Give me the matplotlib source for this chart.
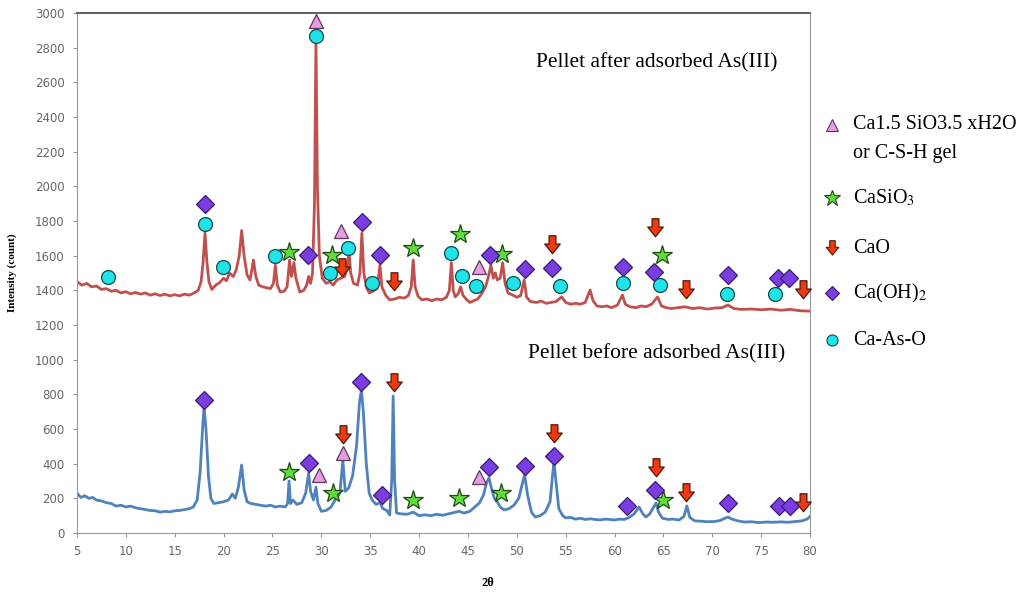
# XRD patterns of pellet before / after As(III) adsorption
import matplotlib
matplotlib.use("Agg")
import matplotlib.pyplot as plt
from matplotlib.path import Path
import numpy

plt.rcParams['mathtext.fontset'] = 'stix'

# ---- traces (2theta, intensity) ----
after_pts = [
    (5.0, 1450), (5.5, 1430), (6.0, 1440), (6.5, 1420), (7.0, 1425), (7.5, 1405),
    (8.0, 1410), (8.5, 1395), (9.0, 1400), (9.5, 1385), (10.0, 1392), (10.5, 1380),
    (11.0, 1388), (11.5, 1378), (12.0, 1385), (12.5, 1372), (13.0, 1380), (13.5, 1370),
    (14.0, 1378), (14.5, 1368), (15.0, 1375), (15.5, 1368), (16.0, 1378), (16.5, 1372),
    (17.0, 1385), (17.4, 1400), (17.7, 1450), (17.9, 1560), (18.1, 1730), (18.3, 1560),
    (18.5, 1450), (18.8, 1405), (19.2, 1430), (19.6, 1445), (20.0, 1470), (20.3, 1455),
    (20.6, 1500), (21.0, 1480), (21.3, 1520), (21.6, 1600), (21.85, 1745), (22.1, 1600),
    (22.4, 1490), (22.7, 1460), (22.9, 1520), (23.05, 1575), (23.3, 1480), (23.6, 1430),
    (24.0, 1420), (24.4, 1415), (24.8, 1410), (25.1, 1440), (25.3, 1545), (25.5, 1430),
    (25.8, 1390), (26.2, 1395), (26.5, 1420), (26.75, 1575), (26.95, 1480), (27.2, 1560),
    (27.4, 1470), (27.8, 1390), (28.2, 1400), (28.5, 1430), (28.7, 1480), (28.9, 1440),
    (29.1, 1500), (29.3, 1900), (29.45, 2850), (29.6, 2000), (29.8, 1600), (30.1, 1470),
    (30.5, 1440), (30.9, 1450), (31.2, 1430), (31.6, 1460), (32.0, 1470), (32.4, 1480),
    (32.65, 1540), (32.85, 1620), (33.0, 1500), (33.3, 1440), (33.7, 1430), (33.95, 1500),
    (34.15, 1730), (34.35, 1500), (34.6, 1420), (34.9, 1385), (35.3, 1395), (35.7, 1410),
    (36.0, 1545), (36.2, 1420), (36.6, 1370), (37.0, 1345), (37.5, 1350), (38.0, 1360),
    (38.5, 1355), (38.9, 1370), (39.2, 1420), (39.4, 1575), (39.6, 1420), (39.9, 1365),
    (40.3, 1345), (40.8, 1350), (41.3, 1340), (41.8, 1350), (42.3, 1345), (42.8, 1360),
    (43.1, 1400), (43.3, 1560), (43.5, 1400), (43.7, 1362), (44.0, 1380), (44.25, 1420),
    (44.5, 1370), (44.9, 1345), (45.2, 1330), (45.6, 1340), (46.0, 1350), (46.4, 1380),
    (46.8, 1420), (47.1, 1480), (47.35, 1545), (47.6, 1470), (47.8, 1500), (48.0, 1460),
    (48.3, 1470), (48.55, 1560), (48.8, 1440), (49.1, 1385), (49.5, 1375), (50.0, 1360),
    (50.4, 1370), (50.75, 1460), (51.0, 1360), (51.4, 1335), (52.0, 1330), (52.5, 1338),
    (53.0, 1325), (53.5, 1330), (54.0, 1335), (54.6, 1362), (55.0, 1330), (55.5, 1320),
    (56.0, 1325), (56.5, 1320), (57.0, 1330), (57.5, 1402), (57.8, 1340), (58.2, 1310),
    (58.7, 1305), (59.2, 1310), (59.7, 1300), (60.3, 1315), (60.8, 1373), (61.1, 1320),
    (61.6, 1305), (62.2, 1300), (62.7, 1310), (63.2, 1305), (63.8, 1320), (64.4, 1362),
    (64.8, 1310), (65.3, 1300), (65.8, 1295), (66.5, 1300), (67.2, 1305), (68.0, 1295),
    (68.7, 1300), (69.5, 1292), (70.3, 1298), (71.0, 1300), (71.6, 1315), (72.2, 1295),
    (73.0, 1290), (74.0, 1292), (75.0, 1288), (76.0, 1292), (77.0, 1285), (78.0, 1290),
    (79.0, 1282), (80.0, 1280),
]

before_pts = [
    (5.0, 230), (5.4, 205), (5.8, 215), (6.2, 200), (6.6, 205), (7.0, 190), (7.5, 185),
    (8.0, 175), (8.5, 170), (9.0, 155), (9.5, 160), (10.0, 150), (10.5, 155), (11.0, 145),
    (11.5, 140), (12.0, 135), (12.5, 130), (13.0, 128), (13.5, 120), (14.0, 125),
    (14.5, 122), (15.0, 128), (15.5, 130), (16.0, 135), (16.5, 140), (16.9, 150),
    (17.3, 190), (17.6, 350), (17.85, 600), (18.0, 730), (18.2, 600), (18.45, 330),
    (18.7, 200), (19.0, 170), (19.5, 175), (20.0, 180), (20.5, 190), (20.9, 225),
    (21.2, 200), (21.5, 260), (21.85, 392), (22.1, 250), (22.4, 180), (22.8, 170),
    (23.3, 165), (23.8, 160), (24.3, 155), (24.8, 160), (25.3, 150), (25.8, 155),
    (26.3, 150), (26.55, 170), (26.7, 300), (26.85, 170), (27.1, 190), (27.5, 165),
    (28.0, 175), (28.4, 230), (28.7, 346), (28.9, 240), (29.2, 190), (29.45, 265),
    (29.65, 170), (30.0, 125), (30.5, 130), (31.0, 150), (31.5, 200), (31.9, 230),
    (32.2, 420), (32.45, 240), (32.8, 260), (33.2, 330), (33.6, 500), (33.9, 750),
    (34.1, 825), (34.3, 700), (34.6, 400), (34.9, 230), (35.2, 190), (35.6, 165),
    (36.0, 175), (36.3, 140), (36.7, 130), (37.0, 104), (37.2, 300), (37.35, 790),
    (37.5, 300), (37.7, 115), (38.2, 110), (38.8, 108), (39.4, 120), (40.0, 100),
    (40.6, 105), (41.2, 100), (41.8, 108), (42.4, 102), (43.0, 110), (43.6, 118),
    (44.1, 125), (44.6, 115), (45.2, 125), (45.7, 150), (46.2, 175), (46.6, 220),
    (46.9, 290), (47.15, 317), (47.4, 260), (47.7, 200), (48.0, 180), (48.3, 150),
    (48.7, 133), (49.2, 140), (49.7, 160), (50.2, 200), (50.5, 270), (50.8, 335),
    (51.1, 220), (51.5, 120), (51.9, 92), (52.4, 100), (52.9, 120), (53.4, 180),
    (53.65, 330), (53.8, 410), (54.0, 300), (54.3, 140), (54.7, 100), (55.0, 87),
    (55.5, 90), (56.0, 80), (56.5, 85), (57.0, 78), (57.5, 82), (58.0, 78), (58.5, 75),
    (59.0, 80), (59.5, 78), (60.0, 75), (60.5, 80), (61.0, 78), (61.5, 90), (62.0, 110),
    (62.5, 150), (62.9, 110), (63.2, 92), (63.6, 110), (64.0, 150), (64.25, 173),
    (64.5, 120), (64.9, 85), (65.5, 78), (66.0, 80), (66.6, 75), (67.1, 95), (67.4, 156),
    (67.7, 90), (68.2, 70), (68.8, 68), (69.5, 65), (70.2, 66), (70.8, 72), (71.3, 85),
    (71.6, 92), (72.0, 80), (72.6, 70), (73.3, 63), (74.0, 65), (74.8, 60), (75.5, 63),
    (76.2, 62), (77.0, 64), (77.8, 62), (78.5, 66), (79.2, 70), (79.7, 80), (80.0, 95),
]

# ---- phase markers (2theta, intensity) ----
csh_after = [(29.5, 2955), (32.0, 1745), (46.1, 1535)]
casio3_after = [(26.7, 1620), (31.1, 1604), (39.4, 1644), (44.2, 1725), (48.5, 1612), (64.9, 1604)]
cao_after = [(32.1, 1529), (37.4, 1448), (53.6, 1662), (64.1, 1760), (67.3, 1402), (79.3, 1402)]
caoh2_after = [(18.1, 1900), (28.6, 1604), (34.2, 1795), (36.0, 1604), (47.3, 1604),
               (50.8, 1523), (53.6, 1529), (60.9, 1535), (64.0, 1506), (71.6, 1488),
               (76.7, 1471), (77.8, 1471)]
caaso_after = [(8.2, 1477), (18.1, 1783), (19.9, 1535), (25.3, 1600), (29.5, 2865),
               (30.9, 1500), (32.7, 1644), (35.2, 1442), (43.3, 1615), (44.4, 1483),
               (45.8, 1425), (49.6, 1442), (54.4, 1425), (60.9, 1442), (64.6, 1430),
               (71.5, 1379), (76.4, 1379)]

csh_before = [(29.8, 335), (32.2, 461), (46.1, 323)]
casio3_before = [(26.7, 352), (31.2, 231), (39.4, 190), (44.1, 202), (48.4, 231), (65.0, 190)]
cao_before = [(32.2, 565), (37.4, 865), (53.8, 571), (64.2, 375), (67.3, 231), (79.3, 173)]
caoh2_before = [(18.0, 767), (28.7, 404), (34.1, 871), (36.2, 219), (47.2, 381),
                (50.8, 387), (53.8, 444), (61.3, 156), (64.1, 248), (71.6, 173),
                (76.8, 156), (77.9, 156)]

legend_labels = ["Ca1.5 SiO3.5 xH2O\nor C-S-H gel", "CaSiO$_3$", "CaO",
                 "Ca(OH)$_2$", "Ca-As-O"]

# down-arrow marker for CaO
arrow = Path([(-0.35, 1.0), (0.35, 1.0), (0.35, 0.15), (0.8, 0.15), (0.0, -0.85),
              (-0.8, 0.15), (-0.35, 0.15), (-0.35, 1.0)],
             [Path.MOVETO] + [Path.LINETO] * 6 + [Path.CLOSEPOLY])

styles = {
    "csh": dict(marker="^", markersize=10, markerfacecolor="#e99be6", markeredgecolor="#5a3a5a"),
    "casio3": dict(marker="*", markersize=15, markerfacecolor="#5fdc3a", markeredgecolor="#1f4a10"),
    "cao": dict(marker=arrow, markersize=14, markerfacecolor="#f2380f", markeredgecolor="#4a1a08"),
    "caoh2": dict(marker="D", markersize=9, markerfacecolor="#7a3ee0", markeredgecolor="#3a1a70"),
    "caaso": dict(marker="o", markersize=10, markerfacecolor="#1fe3e8", markeredgecolor="#104a4a"),
}

fig = plt.figure(figsize=(10.22, 5.92), dpi=100)
ax = fig.add_axes([0.0753, 0.0997, 0.7173, 0.8783])

a = numpy.array(after_pts)
b = numpy.array(before_pts)
ax.plot(a[:, 0], a[:, 1], color="#c0504d", lw=2.0)
ax.plot(b[:, 0], b[:, 1], color="#4f81bd", lw=2.0)

groups = [("csh", csh_after), ("casio3", casio3_after), ("cao", cao_after),
          ("caoh2", caoh2_after), ("caaso", caaso_after),
          ("csh", csh_before), ("casio3", casio3_before), ("cao", cao_before),
          ("caoh2", caoh2_before)]
for key, pts in groups:
    p = numpy.array(pts)
    ax.plot(p[:, 0], p[:, 1], ls="none", markeredgewidth=0.9, clip_on=False, zorder=5,
            **styles[key])

ax.set_xlim(5, 80)
ax.set_ylim(0, 3000)
ax.set_xticks(range(5, 81, 5))
ax.set_yticks(range(0, 3001, 200))
ax.tick_params(labelsize=8.5, labelcolor="#666666", color="#999999", length=3, pad=6)
for s in ["left", "bottom", "right"]:
    ax.spines[s].set_color("#999999")
ax.spines["top"].set_color("#444444")
ax.spines["top"].set_linewidth(1.2)

ax.set_ylabel("Intensity (count)", family="Liberation Serif", fontweight="bold", fontsize=8)
ax.yaxis.set_label_coords(-0.082, 0.5)
ax.set_xlabel("2θ", family="Liberation Serif", fontweight="bold", fontsize=9)
ax.xaxis.set_label_coords(0.56, -0.085)

ax.text(0.791, 0.905, "Pellet after adsorbed As(III)", transform=ax.transAxes,
        family="Liberation Serif", fontsize=15.5, ha="center", va="center")
ax.text(0.791, 0.345, "Pellet before adsorbed As(III)", transform=ax.transAxes,
        family="Liberation Serif", fontsize=15.5, ha="center", va="center")

# legend drawn by hand to the right of the plot
lax = fig.add_axes([0.8, 0.0, 0.2, 1.0])
lax.set_xlim(0, 1)
lax.set_ylim(0, 1)
lax.axis("off")
leg_y = [0.789, 0.665, 0.581, 0.505, 0.425]
for key, lab, y in zip(["csh", "casio3", "cao", "caoh2", "caaso"], legend_labels, leg_y):
    st = dict(styles[key])
    st["markersize"] = st["markersize"] * 0.8
    lax.plot([0.07], [y], ls="none", markeredgewidth=0.8, clip_on=False, **st)
    lax.text(0.173, y, lab, family="Liberation Serif", fontsize=14.5,
             va="top" if "\n" in lab else "center", linespacing=1.7)
# first label is two lines: place its top near the marker
lax.texts[0].set_position((0.173, 0.805))

fig.savefig("out.png", dpi=100, facecolor="white")
